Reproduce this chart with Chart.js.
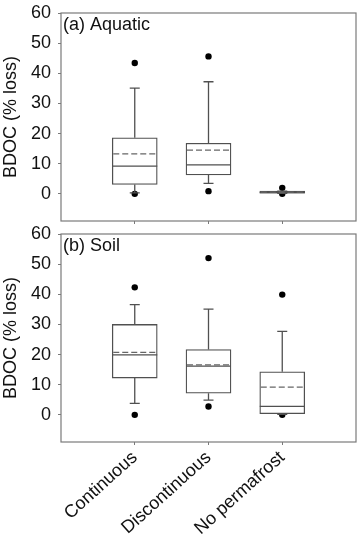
<!DOCTYPE html>
<html>
<head>
<meta charset="utf-8">
<script src="https://cdn.jsdelivr.net/npm/chart.js@4"></script>
<style>
  html, body { margin: 0; padding: 0; background: #fff; }
  #pa { position: absolute; left: 0; top: 0; width: 360px; height: 228px; }
  #pb { position: absolute; left: 0; top: 222px; width: 360px; height: 313px; }
</style>
</head>
<body>
<div id="pa"><canvas id="aquatic"></canvas></div>
<div id="pb"><canvas id="soil"></canvas></div>
<script>
const categories = ["Continuous", "Discontinuous", "No permafrost"];
const yTicks = [0, 10, 20, 30, 40, 50, 60];

// (a) Aquatic
const aqQ1 = [3.1, 6.3, 0.2];
const aqQ3 = [18.6, 16.8, 0.9];
const aqMedian = [9.2, 9.6, 0.4];
const aqMean = [13.3, 14.5, 0.6];
const aqWhiskLo = [0.3, 3.5, 0.2];
const aqWhiskHi = [35.1, 37.2, 0.9];
const aqOutliers = [[43.4, 0], [45.6, 0.9], [2.0, 0]];

// (b) Soil
const soQ1 = [12.2, 7.2, 0.4];
const soQ3 = [30.0, 21.7, 14.3];
const soMedian = [19.9, 16.2, 2.8];
const soMean = [20.7, 16.6, 9.2];
const soWhiskLo = [3.8, 4.9, 0.2];
const soWhiskHi = [36.6, 35.1, 27.7];
const soOutliers = [[42.3, 0], [52.0, 2.8], [39.9, 0]];

const lineColor = "#505050";
const frameColor = "#7a7a7a";
const fontFamily = '"Liberation Sans", Arial, sans-serif';

function makePanel(canvasId, title, q1, q3, med, mean, wLo, wHi, outliers, showLabels, padTop, xHeight) {
  const boxData = categories.map((c, i) => ({ x: i + 1, y: [q1[i], q3[i]] }));
  const outData = [];
  outliers.forEach((list, i) => list.forEach(v => outData.push({ x: i + 1, y: v })));

  // whiskers, median and mean lines, frame and panel label
  const boxLines = {
    id: "boxLines",
    afterDatasetDraw(chart, args) {
      if (args.index !== 0) return;
      const ctx = chart.ctx;
      const xs = chart.scales.x, ys = chart.scales.y;
      const half = 22.5, cap = 5;
      ctx.save();
      ctx.strokeStyle = lineColor;
      ctx.lineWidth = 1.3;
      categories.forEach((c, i) => {
        const px = xs.getPixelForValue(i + 1);
        ctx.beginPath();
        ctx.moveTo(px, ys.getPixelForValue(q3[i]));
        ctx.lineTo(px, ys.getPixelForValue(wHi[i]));
        ctx.moveTo(px - cap, ys.getPixelForValue(wHi[i]));
        ctx.lineTo(px + cap, ys.getPixelForValue(wHi[i]));
        ctx.moveTo(px, ys.getPixelForValue(q1[i]));
        ctx.lineTo(px, ys.getPixelForValue(wLo[i]));
        ctx.moveTo(px - cap, ys.getPixelForValue(wLo[i]));
        ctx.lineTo(px + cap, ys.getPixelForValue(wLo[i]));
        ctx.moveTo(px - half, ys.getPixelForValue(med[i]));
        ctx.lineTo(px + half, ys.getPixelForValue(med[i]));
        ctx.stroke();
        ctx.beginPath();
        ctx.setLineDash([6, 3]);
        ctx.strokeStyle = "#666";
        ctx.moveTo(px - half + 1, ys.getPixelForValue(mean[i]));
        ctx.lineTo(px + half - 1, ys.getPixelForValue(mean[i]));
        ctx.stroke();
        ctx.setLineDash([]);
        ctx.strokeStyle = lineColor;
      });
      ctx.restore();
    },
    afterDraw(chart) {
      const ctx = chart.ctx;
      const a = chart.chartArea;
      ctx.save();
      ctx.strokeStyle = frameColor;
      ctx.lineWidth = 1.2;
      ctx.strokeRect(a.left, a.top, a.right - a.left, a.bottom - a.top);
      ctx.fillStyle = "#111";
      ctx.font = "18px " + fontFamily;
      ctx.textBaseline = "middle";
      ctx.fillText(title, a.left + 2, a.top + 12.5);
      ctx.restore();
    }
  };

  return new Chart(document.getElementById(canvasId), {
    type: "bar",
    data: {
      datasets: [
        {
          type: "bar",
          data: boxData,
          backgroundColor: "#fff",
          borderColor: lineColor,
          borderWidth: 1.3,
          borderSkipped: false,
          barThickness: 45
        },
        {
          type: "scatter",
          data: outData,
          backgroundColor: "#000",
          borderColor: "#000",
          pointRadius: 3.2,
          borderWidth: 0
        }
      ]
    },
    options: {
      responsive: true,
      maintainAspectRatio: false,
      animation: false,
      devicePixelRatio: 1,
      layout: { padding: { top: padTop, right: 1, left: 0, bottom: 0 } },
      plugins: { legend: { display: false }, tooltip: { enabled: false } },
      scales: {
        x: {
          type: "linear",
          offset: false,
          min: 0,
          max: 4,
          afterBuildTicks: s => { s.ticks = categories.map((c, i) => ({ value: i + 1 })); },
          afterFit: s => { s.height = xHeight; s.paddingLeft = 0; s.paddingRight = 0; },
          border: { display: false },
          grid: { offset: false, drawOnChartArea: false, drawTicks: true, tickLength: 3, color: frameColor },
          ticks: {
            display: showLabels,
            minRotation: 42,
            maxRotation: 42,
            padding: 2,
            color: "#111",
            font: { family: fontFamily, size: 18 },
            callback: (v, i) => categories[i]
          }
        },
        y: {
          min: -9,
          max: 60,
          afterBuildTicks: s => { s.ticks = yTicks.map(v => ({ value: v })); },
          afterFit: s => { s.width = 61; s.paddingTop = 0; s.paddingBottom = 0; },
          border: { display: false },
          grid: { drawOnChartArea: false, drawTicks: true, tickLength: 3, color: frameColor },
          ticks: { padding: 7, color: "#111", font: { family: fontFamily, size: 18 } },
          title: {
            display: true,
            text: "BDOC (% loss)",
            color: "#111",
            padding: { top: 0, bottom: 0 },
            font: { family: fontFamily, size: 18 }
          }
        }
      }
    },
    plugins: [boxLines]
  });
}

makePanel("aquatic", "(a) Aquatic", aqQ1, aqQ3, aqMedian, aqMean, aqWhiskLo, aqWhiskHi, aqOutliers, false, 13, 7);
makePanel("soil", "(b) Soil", soQ1, soQ3, soMedian, soMean, soWhiskLo, soWhiskHi, soOutliers, true, 12, 93);
</script>
</body>
</html>
